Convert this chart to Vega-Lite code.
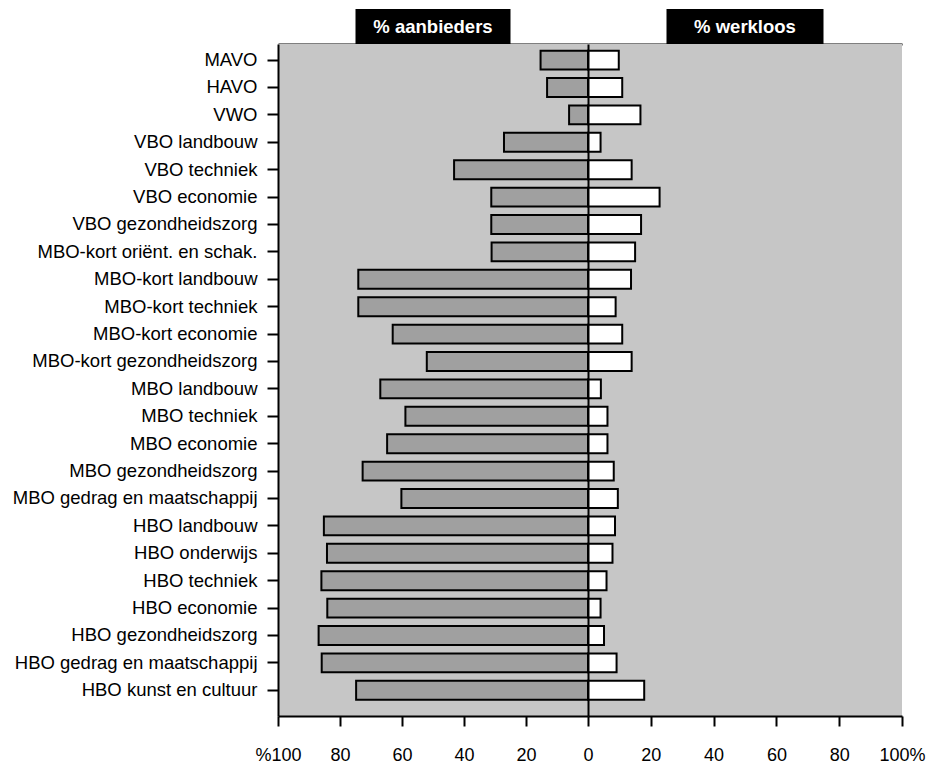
{
  "$schema": "https://vega.github.io/schema/vega-lite/v6.json",
  "padding": {"left": 12, "top": 9, "right": 0, "bottom": 0},
  "background": "white",
  "datasets": {
    "rows": [
      {"opleiding": "MAVO", "aanbieders": 15.3, "werkloos": 9.8},
      {"opleiding": "HAVO", "aanbieders": 13.2, "werkloos": 10.9},
      {"opleiding": "VWO", "aanbieders": 6.1, "werkloos": 16.7},
      {"opleiding": "VBO landbouw", "aanbieders": 27.1, "werkloos": 4.0},
      {"opleiding": "VBO techniek", "aanbieders": 43.2, "werkloos": 13.9},
      {"opleiding": "VBO economie", "aanbieders": 31.2, "werkloos": 22.8},
      {"opleiding": "VBO gezondheidszorg", "aanbieders": 31.2, "werkloos": 16.9},
      {"opleiding": "MBO-kort oriënt. en schak.", "aanbieders": 31.1, "werkloos": 15.0},
      {"opleiding": "MBO-kort landbouw", "aanbieders": 74.1, "werkloos": 13.7},
      {"opleiding": "MBO-kort techniek", "aanbieders": 74.1, "werkloos": 8.8},
      {"opleiding": "MBO-kort economie", "aanbieders": 63.0, "werkloos": 10.9},
      {"opleiding": "MBO-kort gezondheidszorg", "aanbieders": 52.0, "werkloos": 13.9},
      {"opleiding": "MBO landbouw", "aanbieders": 67.0, "werkloos": 4.1},
      {"opleiding": "MBO techniek", "aanbieders": 58.9, "werkloos": 6.2},
      {"opleiding": "MBO economie", "aanbieders": 64.8, "werkloos": 6.2},
      {"opleiding": "MBO gezondheidszorg", "aanbieders": 72.7, "werkloos": 8.2},
      {"opleiding": "MBO gedrag en maatschappij", "aanbieders": 60.2, "werkloos": 9.5},
      {"opleiding": "HBO landbouw", "aanbieders": 85.2, "werkloos": 8.6},
      {"opleiding": "HBO onderwijs", "aanbieders": 84.2, "werkloos": 7.8},
      {"opleiding": "HBO techniek", "aanbieders": 86.0, "werkloos": 5.9},
      {"opleiding": "HBO economie", "aanbieders": 84.1, "werkloos": 4.0},
      {"opleiding": "HBO gezondheidszorg", "aanbieders": 86.9, "werkloos": 5.1},
      {"opleiding": "HBO gedrag en maatschappij", "aanbieders": 85.9, "werkloos": 9.1},
      {"opleiding": "HBO kunst en cultuur", "aanbieders": 74.8, "werkloos": 17.9}
    ]
  },
  "columns": 2,
  "spacing": 0,
  "bounds": "flush",
  "align": "each",
  "concat": [
    {
      "width": 310,
      "height": 35,
      "data": {"values": [{}]},
      "view": {"stroke": null, "fill": null},
      "layer": [
        {
          "mark": {"type": "rect", "color": "black"},
          "encoding": {
            "x": {"datum": 75, "type": "quantitative", "scale": {"domain": [0, 100], "reverse": true},
              "axis": {"orient": "bottom", "ticks": false, "labels": false, "title": null, "domain": true, "domainColor": "black", "domainWidth": 2, "grid": false}},
            "x2": {"datum": 25}
          }
        },
        {
          "mark": {"type": "text", "color": "white", "font": "Liberation Sans", "fontSize": 18.5, "fontWeight": "bold"},
          "encoding": {
            "x": {"datum": 50, "type": "quantitative"},
            "text": {"value": "% aanbieders"}
          }
        }
      ]
    },
    {
      "width": 314,
      "height": 35,
      "data": {"values": [{}]},
      "view": {"stroke": null, "fill": null},
      "layer": [
        {
          "mark": {"type": "rect", "color": "black"},
          "encoding": {
            "x": {"datum": 25, "type": "quantitative", "scale": {"domain": [0, 100]},
              "axis": {"orient": "bottom", "ticks": false, "labels": false, "title": null, "domain": true, "domainColor": "black", "domainWidth": 2, "grid": false}},
            "x2": {"datum": 75}
          }
        },
        {
          "mark": {"type": "text", "color": "white", "font": "Liberation Sans", "fontSize": 18.5, "fontWeight": "bold"},
          "encoding": {
            "x": {"datum": 50, "type": "quantitative"},
            "text": {"value": "% werkloos"}
          }
        }
      ]
    },
    {
      "width": 310,
      "height": 672,
      "data": {"name": "rows"},
      "view": {"fill": "#c6c6c6", "stroke": null},
      "mark": {"type": "bar", "fill": "#a0a0a0", "stroke": "black", "strokeWidth": 2},
      "encoding": {
        "y": {
          "field": "opleiding", "type": "nominal", "sort": null,
          "scale": {"paddingInner": 0.31, "paddingOuter": 0.418, "align": 0.29},
          "axis": {"orient": "left", "title": null, "labelFontSize": 18.5, "labelPadding": 10, "tickSize": 11, "tickWidth": 2, "domainWidth": 2, "labelLimit": 400}
        },
        "x": {
          "field": "aanbieders", "type": "quantitative",
          "scale": {"domain": [0, 100], "reverse": true},
          "axis": {"orient": "bottom", "title": null, "values": [0, 20, 40, 60, 80, 100],
            "labelExpr": "datum.value == 100 ? '%100' : datum.label",
            "labelFontSize": 18, "labelPadding": 20, "tickSize": 10, "tickWidth": 2, "domainWidth": 2,
            "labelFlush": false, "labelOverlap": false}
        }
      }
    },
    {
      "width": 314,
      "height": 672,
      "data": {"name": "rows"},
      "view": {"fill": "#c6c6c6", "stroke": null},
      "mark": {"type": "bar", "fill": "white", "stroke": "black", "strokeWidth": 2},
      "encoding": {
        "y": {
          "field": "opleiding", "type": "nominal", "sort": null,
          "scale": {"paddingInner": 0.31, "paddingOuter": 0.418, "align": 0.29},
          "axis": {"orient": "left", "title": null, "labels": false, "ticks": false, "domain": true, "domainWidth": 2, "zindex": 1}
        },
        "x": {
          "field": "werkloos", "type": "quantitative",
          "scale": {"domain": [0, 100]},
          "axis": {"orient": "bottom", "title": null, "values": [20, 40, 60, 80, 100],
            "labelExpr": "datum.value == 100 ? '100%' : datum.label",
            "labelFontSize": 18, "labelPadding": 20, "tickSize": 10, "tickWidth": 2, "domainWidth": 2,
            "labelFlush": false, "labelOverlap": false}
        }
      }
    }
  ],
  "config": {
    "font": "Liberation Sans",
    "axis": {
      "grid": false,
      "labelColor": "black",
      "labelFont": "Liberation Sans",
      "domainColor": "black",
      "tickColor": "black"
    }
  }
}
